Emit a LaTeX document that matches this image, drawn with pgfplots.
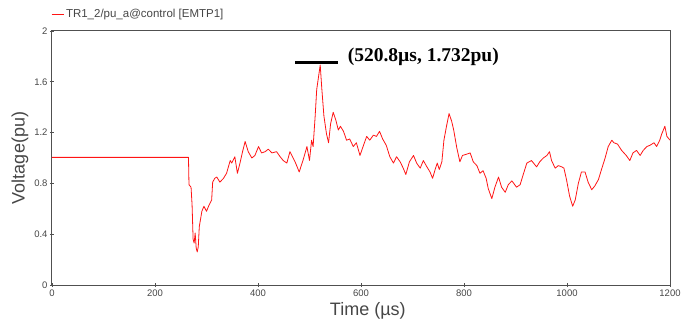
\documentclass[border=0pt]{standalone}
\usepackage{fontspec}
\setmainfont{Liberation Sans}
\newfontfamily\timesfont{Liberation Serif}
\usepackage{pgfplots}
\pgfplotsset{compat=1.18}
\definecolor{frame}{RGB}{80,80,80}
\definecolor{txt}{RGB}{70,70,70}
\definecolor{curve}{RGB}{255,20,20}
\begin{document}
\begin{tikzpicture}
\useasboundingbox (-52pt,-39pt) rectangle (640pt,285pt);
\begin{axis}[
  at={(0pt,0pt)}, anchor=south west,
  scale only axis, width=618pt, height=254pt,
  xmin=0, xmax=1200, ymin=0, ymax=2,
  xtick={0,200,...,1200}, ytick={0,0.4,0.8,1.2,1.6,2},
  /pgf/number format/1000 sep={},
  /pgf/number format/assume math mode=true,
  tick label style={font=\fontsize{9.5}{11}\selectfont, text=txt},
  xticklabel style={yshift=1pt},
  yticklabel style={xshift=1pt},
  tick align=center, major tick length=4pt,
  xtick pos=bottom, ytick pos=left,
  every tick/.style={frame, line width=0.8pt},
  axis line style={frame, line width=1pt},
  xlabel={Time (µs)}, ylabel={Voltage(pu)},
  label style={font=\fontsize{18}{20}\selectfont, text=txt},
  xlabel style={at={(axis description cs:0.511,-0.102)}, anchor=center},
  ylabel style={at={(axis description cs:-0.052,0.5)}, anchor=center},
  legend style={at={(axis description cs:0,1)}, anchor=west, yshift=17pt, xshift=-1pt,
    draw=none, fill=none, inner sep=0pt, font=\fontsize{11.5}{13}\selectfont, text=txt,
    legend cell align=left},
  legend image code/.code={\draw[#1] (0pt,0pt) -- (12pt,0pt);},
]
\addplot[curve, line width=0.8pt, line join=round] coordinates {
(0,1.005) (265,1.005) (266,0.79) (270,0.77) (272,0.63) (274,0.36) (276,0.33)
(278,0.41) (280,0.29) (282,0.26) (284,0.30) (286,0.46) (291,0.58) (295,0.62)
(300,0.58) (305,0.63) (310,0.67) (312,0.81) (316,0.84) (320,0.85) (326,0.81)
(333,0.84) (339,0.88) (346,0.98) (349,0.96) (355,1.01) (360,0.88) (365,0.96)
(370,1.05) (375,1.13) (381,1.05) (388,1.00) (394,1.02) (401,1.09) (407,1.04)
(414,1.05) (420,1.07) (427,1.04) (436,1.05) (443,1.01) (449,0.98) (456,0.96)
(462,1.05) (472,0.97) (480,0.89) (488,0.99) (495,1.09) (500,0.98) (504,1.14)
(507,1.09) (511,1.33) (514,1.54) (520.8,1.732) (524,1.54) (528,1.33) (533,1.19)
(537,1.12) (541,1.27) (546,1.36) (551,1.30) (556,1.22) (560,1.25) (566,1.21)
(572,1.14) (578,1.15) (585,1.09) (591,1.12) (598,1.02) (604,1.09) (611,1.17)
(617,1.14) (624,1.18) (630,1.17) (636,1.21) (642,1.15) (649,1.10) (656,1.01)
(663,0.96) (669,1.01) (676,0.97) (682,0.92) (687,0.87) (694,0.97) (702,1.02)
(708,0.96) (715,0.92) (721,0.98) (728,0.93) (734,0.89) (739,0.84) (744,0.91)
(748,0.96) (752,0.91) (757,0.97) (761,1.14) (766,1.25) (771,1.35) (776,1.29)
(780,1.22) (786,1.08) (792,0.97) (797,1.02) (805,1.03) (812,1.04) (818,0.97)
(825,0.94) (831,0.88) (837,0.90) (843,0.84) (847,0.76) (854,0.68) (860,0.77)
(867,0.85) (873,0.77) (880,0.73) (886,0.79) (893,0.82) (902,0.77) (909,0.79)
(915,0.87) (922,0.96) (931,0.98) (941,0.93) (947,0.97) (954,1.00) (961,1.02)
(966,1.05) (970,0.98) (977,0.92) (983,0.94) (990,0.93) (994,0.92) (999,0.83)
(1005,0.70) (1011,0.62) (1016,0.67) (1022,0.80) (1028,0.89) (1035,0.89)
(1041,0.81) (1048,0.75) (1054,0.78) (1061,0.83) (1067,0.91) (1074,1.00)
(1080,1.09) (1087,1.14) (1091,1.12) (1098,1.11) (1106,1.06) (1115,1.02)
(1122,0.98) (1128,1.04) (1135,1.06) (1142,1.02) (1148,1.06) (1155,1.09)
(1161,1.10) (1169,1.12) (1174,1.09) (1180,1.14) (1184,1.19) (1190,1.25)
(1194,1.17) (1200,1.14)
};
\addlegendentry{TR1\_2/pu\_a@control [EMTP1]}
\addplot[black, line width=3pt, forget plot] coordinates {(472,1.752) (555,1.752)};
\node[anchor=west, inner sep=0pt, font=\timesfont\bfseries\fontsize{19.5}{22}\selectfont]
  at (axis cs:574,1.795) {(520.8µs, 1.732pu)};
\end{axis}
\end{tikzpicture}
\end{document}
